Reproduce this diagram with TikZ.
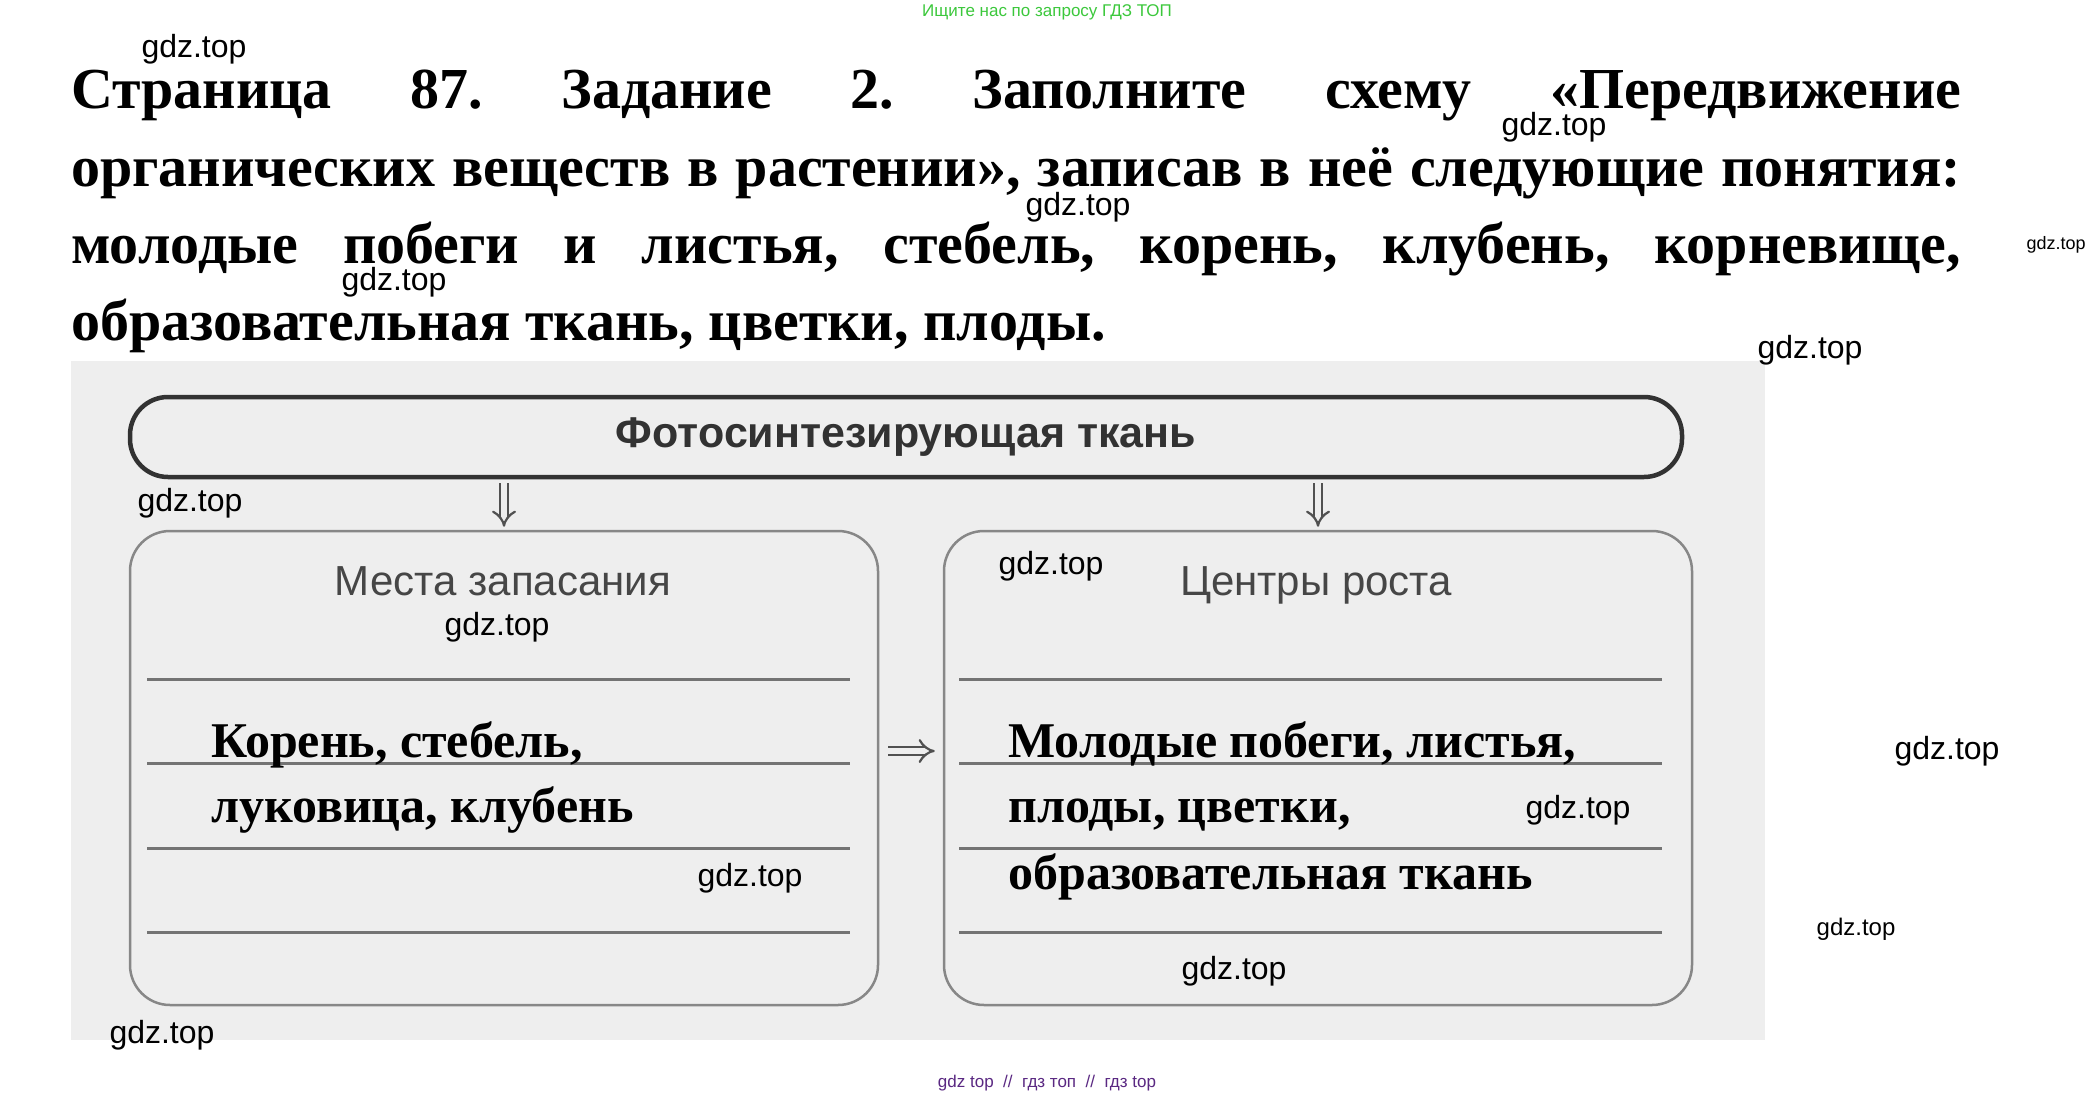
\documentclass[tikz,border=0pt]{standalone}
\usepackage{fontspec}
\setmainfont{Liberation Serif}
\setsansfont{Liberation Sans}
\usetikzlibrary{arrows.meta}
\frenchspacing

\definecolor{scan}{RGB}{238,238,238}
\definecolor{ink}{RGB}{50,50,50}
\definecolor{frame}{RGB}{135,135,135}
\definecolor{hintgreen}{RGB}{60,200,60}
\definecolor{footviolet}{RGB}{90,40,130}

\tikzset{
  wm/.style={font=\sffamily\fontsize{32}{36}\selectfont, inner sep=0},
  titleline/.style={anchor=base west, inner sep=0, font=\bfseries\fontsize{58}{70}\selectfont},
  answer/.style={anchor=base west, inner sep=0, font=\bfseries\fontsize{50}{60}\selectfont},
  topbox/.style={draw=ink, line width=4.5pt, rounded corners=38pt, minimum width=1552pt,
    minimum height=80pt, font=\sffamily\bfseries\fontsize{43}{50}\selectfont, text=ink},
  groupbox/.style={draw=frame, line width=2.5pt, rounded corners=40pt,
    minimum width=748pt, minimum height=474pt},
  grouptitle/.style={anchor=base, font=\sffamily\fontsize{42}{50}\selectfont, text=ink!90, inner sep=0},
  rule/.style={draw=frame!85!black, line width=3pt},
  dbl/.style={draw=ink!85, line width=2.2pt, double=scan, double distance=6pt, -{Implies}},
}

\begin{document}
\begin{tikzpicture}[x=1pt,y=-1pt]
\useasboundingbox[fill=white] (0,0) rectangle (2096,1097);

\node[font=\sffamily\fontsize{17}{20}\selectfont, text=hintgreen] (hint) at (1047,12) {Ищите нас по запросу ГДЗ ТОП};

% task text
\node[titleline] (t1) at (71,109) {\makebox[1890pt][s]{Страница 87. Задание 2. Заполните схему «Передвижение}};
\node[titleline] (t2) at (71,186) {\makebox[1890pt][s]{органических веществ в растении», записав в неё следующие понятия:}};
\node[titleline] (t3) at (71,263) {\makebox[1890pt][s]{молодые побеги и листья, стебель, корень, клубень, корневище,}};
\node[titleline] (t4) at (71,340) {образовательная ткань, цветки, плоды.};

% scheme
\fill[scan] (71,361) rectangle (1765,1040);
\node[topbox] (photo) at (906,437) {Фотосинтезирующая ткань};
\node[groupbox] (store) at (504,768) {};
\node[groupbox] (growth) at (1318,768) {};
\node[grouptitle] (storetitle) at (503,595) {Места запасания};
\node[grouptitle] (growthtitle) at (1316,595) {Центры роста};

\foreach \y in {679,763,848,932} {
  \draw[rule] (147,\y) -- (850,\y);
  \draw[rule] (959,\y) -- (1662,\y);
}

\draw[dbl, shorten <=4pt, shorten >=3pt] (photo.south -| store.north) -- (store.north);
\draw[dbl, shorten <=4pt, shorten >=3pt] (photo.south -| growth.north) -- (growth.north);
\draw[dbl, shorten <=9pt, shorten >=8pt] ([yshift=17pt]store.east) -- ([yshift=17pt]growth.west);

\node[answer] (a1) at (211,757) {Корень, стебель,};
\node[answer] (a2) at (211,822) {луковица, клубень};
\node[answer] (b1) at (1008,757) {Молодые побеги, листья,};
\node[answer] (b2) at (1008,822) {плоды, цветки,};
\node[answer] (b3) at (1008,889) {образовательная ткань};

% watermarks
\foreach \x/\y [count=\i] in {194/49,1554/127,1078/207,394/282,1810/350,190/503,1051/566,
  497/627,1947/751,1578/810,750/878,1234/971,162/1035}
  \node[wm] (wm\i) at (\x,\y) {gdz.top};
\node[wm, font=\sffamily\fontsize{18}{20}\selectfont] (wmsmall) at (2056,245) {gdz.top};
\node[wm, font=\sffamily\fontsize{24}{28}\selectfont] (wmmid) at (1856,929) {gdz.top};

\node[font=\sffamily\fontsize{17}{20}\selectfont, text=footviolet] (footer) at (1047,1083)
  {gdz top \ // \ гдз топ \ // \ гдз top};
\end{tikzpicture}
\end{document}
